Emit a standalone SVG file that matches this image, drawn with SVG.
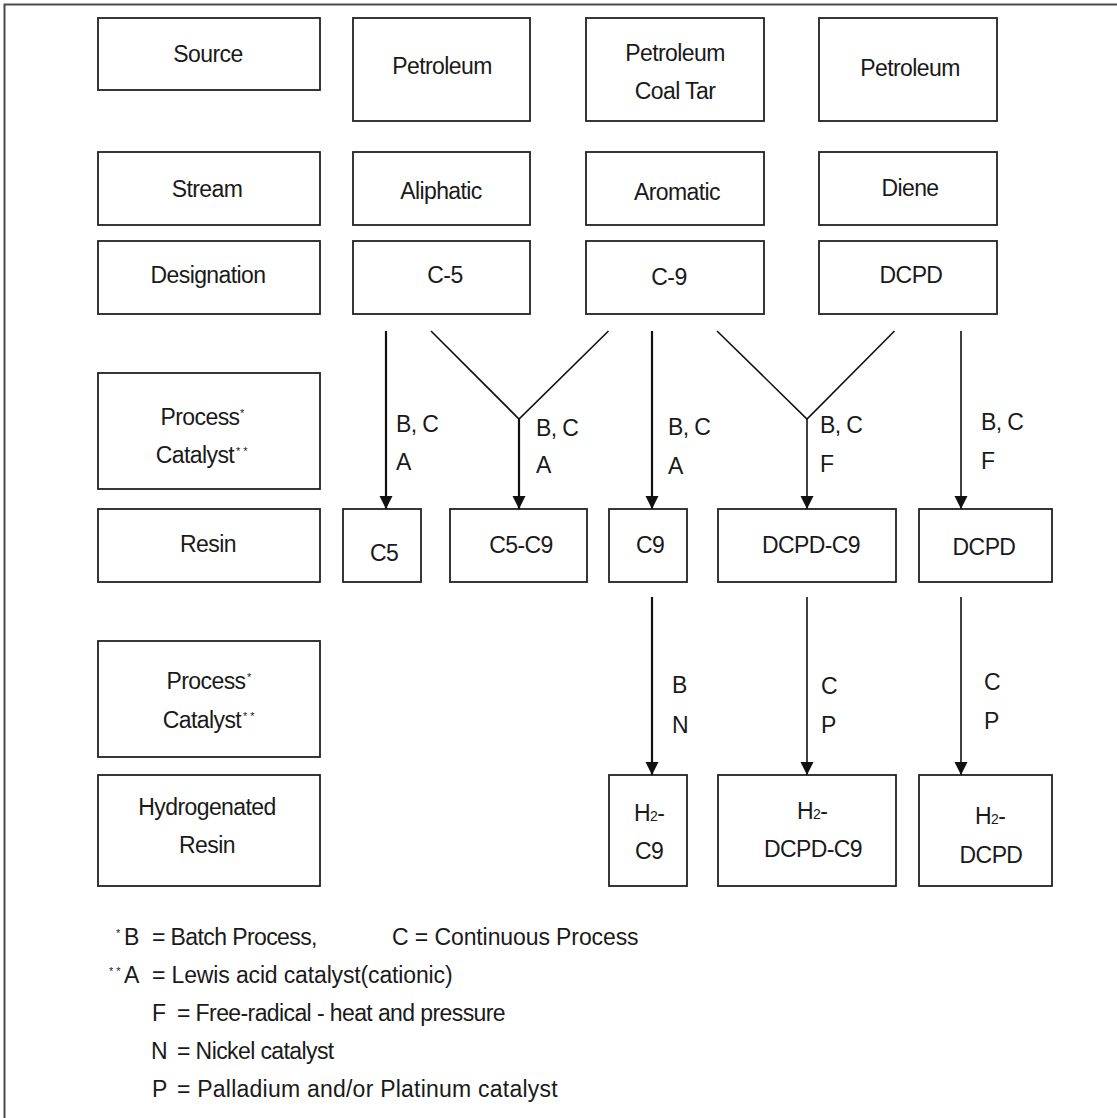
<svg xmlns="http://www.w3.org/2000/svg" width="1117" height="1118" viewBox="0 0 1117 1118">
<defs>
<style>
.box{fill:#fff;stroke:#222;stroke-width:1.8}
text{font-family:"Liberation Sans",Arial,sans-serif;font-size:23px;letter-spacing:-0.6px;fill:#1a1a1a}
.c{text-anchor:middle}
.ast{font-size:11px;letter-spacing:0}
.sub{font-size:14px}
.ln{fill:none;stroke:#111;stroke-width:1.6}
.th{stroke-width:2.2}
</style>
<marker id="ahd" markerWidth="14" markerHeight="14" refX="7" refY="13" markerUnits="userSpaceOnUse" viewBox="0 0 14 14" orient="0">
<path d="M0.5,0 L13.5,0 L7,13 Z" fill="#111"/>
</marker>
</defs>
<rect width="1117" height="1118" fill="#fff"/>
<g id="frame">
<path d="M4.5,1118 V4.5 H1117" fill="none" stroke="#4a4a4a" stroke-width="2"/>
</g>

<g id="n-source"><rect class="box" x="98" y="18" width="222" height="72"/><text class="c" x="208" y="61.5">Source</text></g>
<g id="n-pet1"><rect class="box" x="353" y="18" width="177" height="103"/><text class="c" x="442" y="74">Petroleum</text></g>
<g id="n-pet2"><rect class="box" x="586" y="18" width="178" height="103"/><text class="c" x="675" y="61">Petroleum</text><text class="c" x="675" y="99">Coal Tar</text></g>
<g id="n-pet3"><rect class="box" x="819" y="18" width="178" height="103"/><text class="c" x="910" y="76">Petroleum</text></g>

<g id="n-stream"><rect class="box" x="98" y="152" width="222" height="73"/><text class="c" x="207" y="196.5">Stream</text></g>
<g id="n-aliph"><rect class="box" x="353" y="152" width="177" height="73"/><text class="c" x="441" y="199">Aliphatic</text></g>
<g id="n-arom"><rect class="box" x="586" y="152" width="178" height="73"/><text class="c" x="677" y="200">Aromatic</text></g>
<g id="n-diene"><rect class="box" x="819" y="152" width="178" height="73"/><text class="c" x="910" y="196">Diene</text></g>

<g id="n-desig"><rect class="box" x="98" y="241" width="222" height="73"/><text class="c" x="208" y="283">Designation</text></g>
<g id="n-c5d"><rect class="box" x="353" y="241" width="177" height="73"/><text class="c" x="445" y="283">C-5</text></g>
<g id="n-c9d"><rect class="box" x="586" y="241" width="178" height="73"/><text class="c" x="669" y="285">C-9</text></g>
<g id="n-dcpdd"><rect class="box" x="819" y="241" width="178" height="73"/><text class="c" x="911" y="283">DCPD</text></g>

<g id="n-proc1"><rect class="box" x="98" y="373" width="222" height="116"/><text class="c" x="200" y="425">Process</text><text class="ast" x="240" y="417">*</text><text class="c" x="195" y="463">Catalyst</text><text class="ast" x="236" y="455">* *</text></g>

<g id="n-resin"><rect class="box" x="98" y="509" width="222" height="73"/><text class="c" x="208" y="552">Resin</text></g>
<g id="n-c5"><rect class="box" x="343" y="509" width="78" height="73"/><text class="c" x="384" y="561">C5</text></g>
<g id="n-c5c9"><rect class="box" x="450" y="509" width="137" height="73"/><text class="c" x="521" y="553">C5-C9</text></g>
<g id="n-c9"><rect class="box" x="609" y="509" width="78" height="73"/><text class="c" x="650" y="553">C9</text></g>
<g id="n-dcpdc9"><rect class="box" x="718" y="509" width="178" height="73"/><text class="c" x="811" y="553">DCPD-C9</text></g>
<g id="n-dcpd"><rect class="box" x="919" y="509" width="133" height="73"/><text class="c" x="984" y="555">DCPD</text></g>

<g id="n-proc2"><rect class="box" x="98" y="641" width="222" height="116"/><text class="c" x="206" y="689">Process</text><text class="ast" x="247" y="681">*</text><text class="c" x="202" y="728">Catalyst</text><text class="ast" x="243" y="720">* *</text></g>

<g id="n-hyd"><rect class="box" x="98" y="775" width="222" height="111"/><text class="c" x="207" y="815">Hydrogenated</text><text class="c" x="207" y="853">Resin</text></g>
<g id="n-h2c9"><rect class="box" x="609" y="775" width="78" height="111"/><text x="634" y="821">H<tspan class="sub">2</tspan>-</text><text class="c" x="649" y="859">C9</text></g>
<g id="n-h2dcpdc9"><rect class="box" x="718" y="775" width="178" height="111"/><text x="797" y="819">H<tspan class="sub">2</tspan>-</text><text class="c" x="813" y="857">DCPD-C9</text></g>
<g id="n-h2dcpd"><rect class="box" x="919" y="775" width="133" height="111"/><text x="975" y="824">H<tspan class="sub">2</tspan>-</text><text class="c" x="991" y="863">DCPD</text></g>

<g id="connectors">
<line class="ln th" x1="386" y1="331" x2="386" y2="509" marker-end="url(#ahd)"/>
<polyline class="ln" points="431,331 519,419 608.5,331"/>
<line class="ln th" x1="519" y1="419" x2="519" y2="509" marker-end="url(#ahd)"/>
<line class="ln th" x1="652" y1="331" x2="652" y2="509" marker-end="url(#ahd)"/>
<polyline class="ln" points="717,331 807,419 894.5,331"/>
<line class="ln" x1="807" y1="419" x2="807" y2="509" marker-end="url(#ahd)"/>
<line class="ln" x1="961" y1="331" x2="961" y2="509" marker-end="url(#ahd)"/>
<line class="ln th" x1="652" y1="597" x2="652" y2="775" marker-end="url(#ahd)"/>
<line class="ln" x1="807" y1="597" x2="807" y2="775" marker-end="url(#ahd)"/>
<line class="ln" x1="961" y1="597" x2="961" y2="775" marker-end="url(#ahd)"/>
</g>

<g id="labels">
<text x="396" y="432">B, C</text><text x="396" y="470">A</text>
<text x="536" y="436">B, C</text><text x="536" y="473">A</text>
<text x="668" y="435">B, C</text><text x="668" y="474">A</text>
<text x="820" y="433">B, C</text><text x="820" y="472">F</text>
<text x="981" y="430">B, C</text><text x="981" y="469">F</text>
<text x="672" y="693">B</text><text x="672" y="733">N</text>
<text x="821" y="694">C</text><text x="821" y="733">P</text>
<text x="984" y="690">C</text><text x="984" y="729">P</text>
</g>

<g id="legend">
<text class="ast" x="116" y="937">*</text><text x="124" y="945">B</text>
<text x="152" y="945">= Batch Process,</text>
<text x="392" y="945" textLength="246" lengthAdjust="spacing">C = Continuous Process</text>
<text class="ast" x="109" y="975">* *</text><text x="124" y="983">A</text>
<text x="152" y="983" textLength="300" lengthAdjust="spacing">= Lewis acid catalyst(cationic)</text>
<text x="152" y="1021">F</text><text x="177" y="1021">= Free-radical - heat and pressure</text>
<text x="151" y="1059">N</text><text x="177" y="1059">= Nickel catalyst</text>
<text x="152" y="1097">P</text><text x="177" y="1097" textLength="380" lengthAdjust="spacing">= Palladium and/or Platinum catalyst</text>
</g>
</svg>
